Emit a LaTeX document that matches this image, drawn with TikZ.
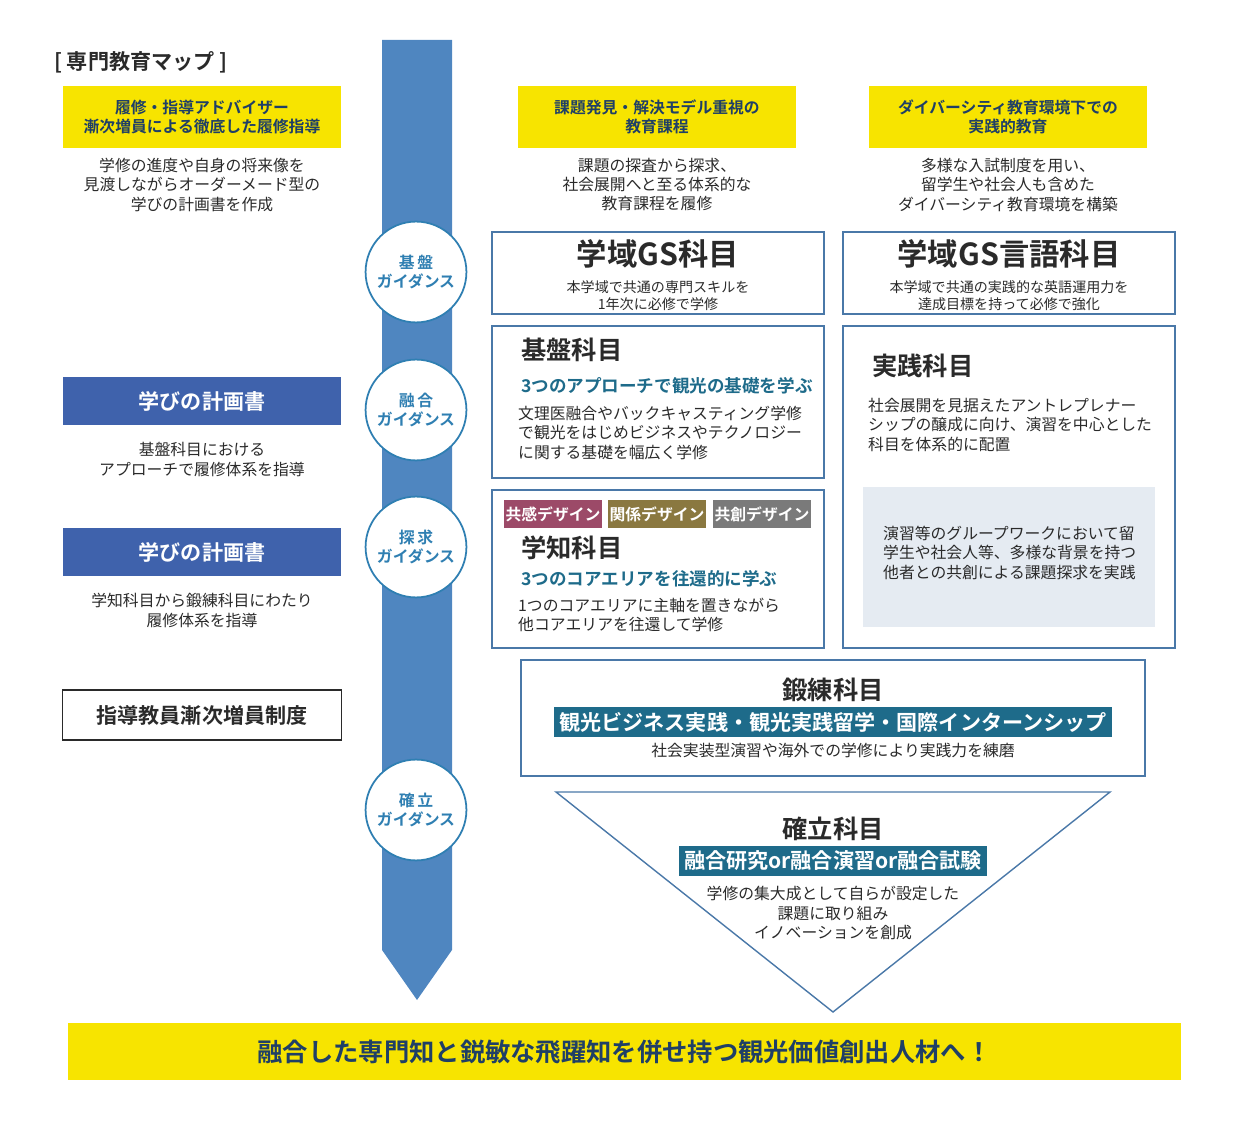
\documentclass[tikz,border=0pt]{standalone}
\usepackage{fontspec}
\usetikzlibrary{positioning}
\setmainfont{Noto Sans CJK JP}
\newfontfamily\cjkbold{Noto Sans CJK JP Bold}
\definecolor{yel}{HTML}{F7E400}
\definecolor{flow}{HTML}{4F86C0}
\definecolor{plan}{HTML}{3F62AC}
\definecolor{teal}{HTML}{1E6B8A}
\definecolor{ink}{HTML}{2A2A2A}
\definecolor{navy}{HTML}{1F3F66}
\definecolor{ring}{HTML}{2F7FB2}
\definecolor{frame}{HTML}{4A78A8}
\definecolor{pale}{HTML}{E5EBF2}
\definecolor{tagA}{HTML}{9C4A68}
\definecolor{tagB}{HTML}{8A7840}
\definecolor{tagC}{HTML}{7A7A7A}
\tikzset{
  yelbox/.style={fill=yel,minimum width=5.58cm,minimum height=1.24cm,align=center,font=\cjkbold\small,text=navy},
  body/.style={align=center,font=\small,text=ink},
  leftbody/.style={align=left,font=\small,text=ink,anchor=north west},
  planbox/.style={fill=plan,minimum width=5.58cm,minimum height=0.98cm,font=\cjkbold\large,text=white},
  guide/.style={circle,draw=ring,line width=1pt,fill=white,minimum size=2cm,align=center,font=\cjkbold\small,text=ring},
  course/.style={draw=frame,line width=0.8pt,anchor=north west},
  tag/.style={font=\cjkbold\small,text=white,minimum height=0.56cm,minimum width=1.96cm,inner sep=1pt},
  label/.style={fill=teal,font=\cjkbold\large,text=white,inner sep=3pt}
}
\begin{document}
\begin{tikzpicture}[x=0.02cm,y=-0.02cm]
\useasboundingbox (0,0) rectangle (1251,1141);

% flow arrow
\fill[flow] (382,40) -- (452,40) -- (452,950) -- (417,1000) -- (382,950) -- cycle;

% left column
\node[anchor=west,font=\cjkbold\large,text=ink] (title) at (48,62) {[ 専門教育マップ ]};
\node[yelbox] (adv) at (202,117) {履修・指導アドバイザー\\漸次増員による徹底した履修指導};
\node[body,below=2pt of adv] (advtext) {学修の進度や自身の将来像を\\見渡しながらオーダーメード型の\\学びの計画書を作成};
\node[planbox] (plan1) at (202,401) {学びの計画書};
\node[body,below=6pt of plan1] (plan1text) {基盤科目における\\アプローチで履修体系を指導};
\node[planbox] (plan2) at (202,552) {学びの計画書};
\node[body,below=6pt of plan2] (plan2text) {学知科目から鍛練科目にわたり\\履修体系を指導};
\node[draw=ink,line width=0.8pt,minimum width=5.58cm,minimum height=1cm,font=\cjkbold\large,text=ink] (staff) at (202,715) {指導教員漸次増員制度};

% guidance circles
\node[guide] (g1) at (416,272) {基\,盤\\ガイダンス};
\node[guide] (g2) at (416,410) {融\,合\\ガイダンス};
\node[guide] (g3) at (416,547) {探\,求\\ガイダンス};
\node[guide] (g4) at (416,810) {確\,立\\ガイダンス};

% upper right headings
\node[yelbox] (model) at (657,117) {課題発見・解決モデル重視の\\教育課程};
\node[body,below=2pt of model] (modeltext) {課題の探査から探求、\\社会展開へと至る体系的な\\教育課程を履修};
\node[yelbox] (div) at (1008,117) {ダイバーシティ教育環境下での\\実践的教育};
\node[body,below=2pt of div] (divtext) {多様な入試制度を用い、\\留学生や社会人も含めた\\ダイバーシティ教育環境を構築};

% course boxes
\draw[course] (492,232) rectangle (824,314);
\node[font=\cjkbold\LARGE,text=ink] (gs) at (658,254) {学域GS科目};
\node[body,font=\footnotesize,below=0pt of gs] {本学域で共通の専門スキルを\\1年次に必修で学修};
\draw[course] (843,232) rectangle (1175,314);
\node[font=\cjkbold\LARGE,text=ink] (gsl) at (1009,254) {学域GS言語科目};
\node[body,font=\footnotesize,below=0pt of gsl] {本学域で共通の実践的な英語運用力を\\達成目標を持って必修で強化};

\draw[course] (492,326) rectangle (824,478);
\node[anchor=west,font=\cjkbold\Large,text=ink] (kiban) at (515,350) {基盤科目};
\node[anchor=west,font=\cjkbold\normalsize,text=teal] (kibanhead) at (515,386) {3つのアプローチで観光の基礎を学ぶ};
\node[leftbody,font=\small,text=ink] (kibantext) at (512,400) {文理医融合やバックキャスティング学修\\で観光をはじめビジネスやテクノロジー\\に関する基礎を幅広く学修};

\draw[course] (492,490) rectangle (824,648);
\node[tag,fill=tagA] (tagA) at (553,514) {共感デザイン};
\node[tag,fill=tagB] (tagB) at (657,514) {関係デザイン};
\node[tag,fill=tagC] (tagC) at (762,514) {共創デザイン};
\node[anchor=west,font=\cjkbold\Large,text=ink] (gakuchi) at (515,548) {学知科目};
\node[anchor=west,font=\cjkbold\normalsize,text=teal] (gakuchihead) at (515,579) {3つのコアエリアを往還的に学ぶ};
\node[leftbody] (gakuchitext) at (512,592) {1つのコアエリアに主軸を置きながら\\他コアエリアを往還して学修};

\draw[course] (843,326) rectangle (1175,648);
\node[anchor=west,font=\cjkbold\Large,text=ink] (jissen) at (866,366) {実践科目};
\node[leftbody] (jissentext) at (862,392) {社会展開を見据えたアントレプレナー\\シップの醸成に向け、演習を中心とした\\科目を体系的に配置};
\fill[pale] (863,487) rectangle (1155,627);
\node[leftbody] (paletext) at (877,520) {演習等のグループワークにおいて留\\学生や社会人等、多様な背景を持つ\\他者との共創による課題探求を実践};

\draw[course] (521,660) rectangle (1145,776);
\node[font=\cjkbold\Large,text=ink] (tanren) at (833,690) {鍛練科目};
\node[label] (tanrenlabel) at (833,722) {観光ビジネス実践・観光実践留学・国際インターンシップ};
\node[body] (tanrentext) at (833,750) {社会実装型演習や海外での学修により実践力を練磨};

\draw[frame,line width=0.8pt] (556,792) -- (1110,792) -- (833,1012) -- cycle;
\node[font=\cjkbold\Large,text=ink] (kakuritsu) at (833,829) {確立科目};
\node[label] (kakulabel) at (833,861) {融合研究or融合演習or融合試験};
\node[body,below=2pt of kakulabel] (kakutext) {学修の集大成として自らが設定した\\課題に取り組み\\イノベーションを創成};

% goal
\node[fill=yel,minimum width=22.26cm,minimum height=1.14cm,font=\cjkbold\Large,text=navy] (goal) at (624.5,1051.5) {融合した専門知と鋭敏な飛躍知を併せ持つ観光価値創出人材へ！};
\end{tikzpicture}
\end{document}
